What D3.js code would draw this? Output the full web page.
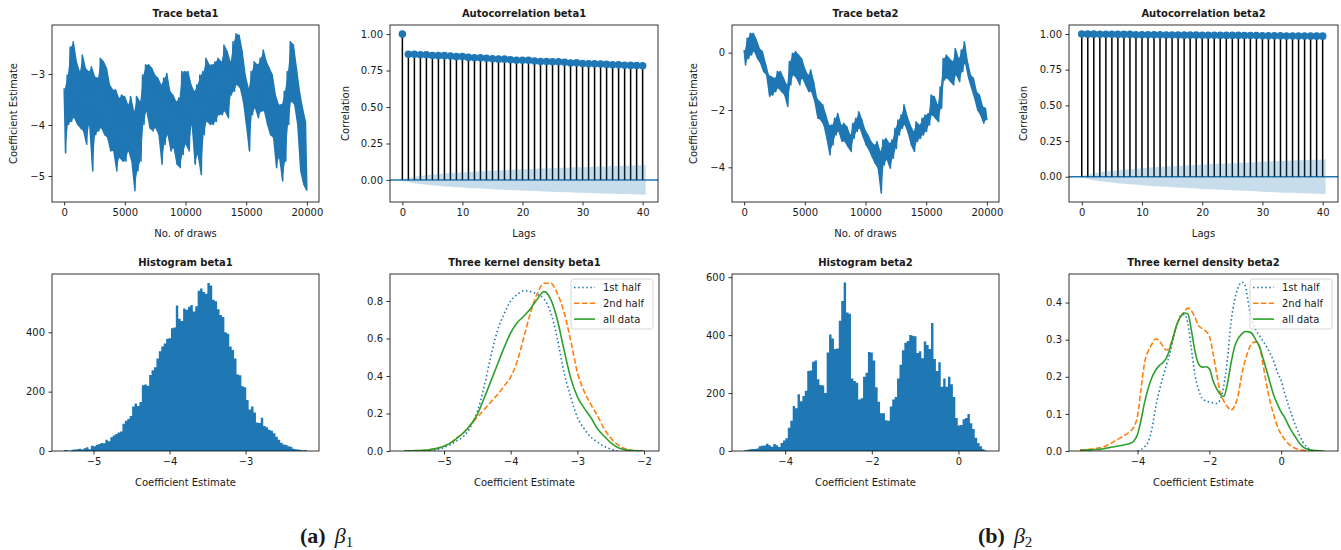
<!DOCTYPE html>
<html lang="en">
<head>
<meta charset="UTF-8">
<title>Trace, autocorrelation, histogram and kernel density of beta1 / beta2</title>
<script src="https://cdn.jsdelivr.net/npm/d3@7"></script>
<style>
  body { margin: 0; background: #fff; }
  svg text { font-family: "DejaVu Sans", sans-serif; fill: #1a1a1a; }
</style>
</head>
<body>
<svg id="chart" width="1341" height="550"></svg>
<script>
// ---- data ----
// trace: alternating local high / low every ~125 draws
const trace1 = [
  -3.28,-4.55, -3.02,-3.99, -2.47,-3.93, -2.37,-3.86, -2.76,-3.99, -2.95,-4.06, -2.63,-4.12, -2.89,-4.38,
  -2.95,-3.99, -2.86,-4.90, -3.05,-4.19, -3.08,-4.12, -2.69,-4.06, -2.76,-4.19, -2.89,-4.25, -3.21,-4.51,
  -3.31,-4.51, -3.31,-4.90, -3.47,-4.64, -3.41,-4.71, -3.44,-4.71, -3.60,-4.51, -3.44,-4.71, -3.73,-5.29,
  -3.44,-4.90, -3.54,-4.71, -3.02,-3.99, -2.82,-3.73, -2.82,-4.06, -2.89,-4.12, -3.02,-4.06, -3.08,-4.19,
  -3.21,-4.77, -3.08,-4.38, -2.99,-4.19, -3.34,-4.51, -3.41,-4.45, -3.54,-4.77, -3.47,-4.84, -2.95,-4.58,
  -2.95,-4.38, -2.95,-4.51, -3.21,-3.99, -3.34,-4.77, -3.21,-4.58, -3.02,-4.97, -2.95,-4.19, -2.69,-3.93,
  -2.82,-3.99, -2.82,-3.99, -2.76,-3.93, -2.69,-3.80, -2.76,-3.80, -2.43,-3.73, -2.56,-3.86, -2.76,-3.41,
  -2.37,-3.34, -2.21,-3.21, -2.24,-3.28, -2.56,-3.54, -3.02,-3.99, -3.28,-4.51, -2.95,-3.80, -2.76,-3.67,
  -2.82,-3.86, -2.69,-3.73, -2.53,-3.73, -2.76,-3.99, -2.89,-4.19, -3.02,-4.25, -3.41,-4.84, -3.60,-4.64,
  -3.60,-5.10, -3.34,-4.71, -2.95,-3.99, -2.37,-3.54, -2.43,-3.60, -2.89,-3.99, -3.34,-4.90, -3.67,-5.16,
  -3.93,-5.29
];
const trace2 = [
  0.09,-0.43, 0.50,-0.20, 0.68,-0.08, 0.68,0.04, 0.44,-0.20, 0.15,-0.37, 0.04,-0.66, -0.37,-0.78,
  -0.78,-1.53, -0.84,-1.48, -0.89,-1.36, -0.66,-1.24, -0.66,-1.36, -0.89,-1.48, -1.13,-1.88, -0.31,-1.13,
  -0.02,-0.78, 0.04,-0.89, -0.08,-1.13, -0.20,-0.89, -0.55,-1.13, -0.78,-1.36, -0.60,-1.36, -1.01,-1.71,
  -1.59,-2.29, -1.71,-2.35, -1.82,-2.52, -2.17,-2.99, -2.52,-3.57, -2.52,-3.22, -2.29,-2.87, -2.12,-2.75,
  -2.52,-3.10, -2.46,-3.10, -2.58,-3.28, -2.87,-3.45, -2.46,-2.99, -2.29,-2.75, -2.06,-2.64, -2.35,-2.93,
  -2.70,-3.22, -2.87,-3.39, -3.10,-3.63, -3.22,-3.86, -3.10,-4.03, -3.45,-4.90, -3.04,-3.92, -2.99,-3.74,
  -3.16,-4.03, -3.04,-3.68, -2.64,-3.34, -2.35,-2.87, -2.17,-2.64, -1.82,-2.52, -2.23,-2.81, -2.52,-3.22,
  -2.75,-3.45, -2.41,-3.10, -2.52,-2.99, -2.29,-2.87, -2.17,-2.75, -2.12,-2.52, -1.48,-2.17, -1.53,-2.29,
  -1.82,-2.41, -1.19,-1.94, -0.20,-0.95, -0.08,-0.89, -0.20,-1.01, -0.31,-1.13, 0.15,-0.78, -0.20,-1.01,
  0.09,-0.66, 0.38,-0.37, -0.31,-0.89, -0.78,-1.24, -0.89,-1.59, -1.36,-2.00, -1.48,-2.17, -1.88,-2.46,
  -1.94,-2.35
];
const nDraws = 20000;

// autocorrelation, lags 0..40, and half width of the confidence band
const lags = d3.range(0, 41);
const acf1 = [1.0, .862, .862, .858, .858, .853, .852, .852, .850, .845, .846, .840, .838, .838, .834, .830,
  .828, .828, .824, .820, .820, .820, .815, .812, .812, .810, .810, .806, .802, .803, .798, .796, .796, .795,
  .792, .790, .790, .786, .785, .784, .782];
const conf1 = [0, .014, .022, .028, .033, .036, .040, .044, .047, .050, .052, .055, .057, .059, .061, .063,
  .065, .067, .069, .071, .073, .074, .076, .078, .079, .081, .082, .084, .085, .087, .088, .089, .091, .092,
  .093, .095, .096, .097, .098, .100, .101];
const acf2 = [1.0, .999, .999, .998, .998, .998, .997, .997, .997, .995, .995, .994, .994, .994, .993, .993,
  .993, .992, .992, .992, .991, .991, .991, .990, .990, .990, .990, .989, .989, .989, .987, .987, .987, .987,
  .986, .986, .986, .986, .985, .985, .985];
const conf2 = [0, .014, .024, .031, .036, .041, .045, .049, .052, .055, .060, .063, .066, .068, .071, .073,
  .076, .078, .080, .082, .086, .088, .089, .091, .093, .095, .097, .098, .100, .102, .106, .107, .109, .110,
  .112, .113, .115, .116, .118, .119, .122];

// histograms: 100 bins between min and max draw
const hist1Range = [-5.386, -2.193];
const hist1Counts = [3,2,1,4,5,6,8,5,9,13, 6,18,16,20,24,27,26,38,33,46, 52,57,62,66,92,102,108,118,150,160,
  152,165,222,224,220,256,272,282,312,336, 352,362,378,380,414,416,490,446,438,480,
  476,486,492,470,488,540,548,536,530,566, 558,510,505,478,458,452,400,395,352,340,
  312,258,255,218,215,172,140,150,130,96, 94,112,84,80,72,68,60,48,38,28, 22,20,16,14,8,6,5,3,2,3];
const hist2Range = [-4.948, 0.656];
const hist2Counts = [3,4,6,7,7,9,16,18,19,25, 20,15,24,20,14,28,36,44,80,104, 155,148,196,172,190,208,276,278,308,312,
  248,228,226,200,340,402,388,352,354,450, 518,582,478,474,250,242,236,178,182,256,
  270,342,340,312,220,170,130,130,106,104, 154,178,186,250,298,348,374,380,400,398,
  396,338,344,320,378,366,352,442,318,276, 306,222,250,222,256,230,186,114,88,90,
  110,114,128,96,76,46,28,16,6,2];

// kernel densities on a 0.1 grid
const kde1Grid = d3.range(37).map(i => -5.6 + i * 0.1);
const kde1First = [null,null,0.0,0.001,0.003,0.008,0.018,0.035,0.055,0.08,0.13,0.21,0.34,0.50,0.64,0.73,0.80,
  0.835,0.855,0.85,0.835,0.81,0.74,0.60,0.42,0.29,0.18,0.12,0.075,0.048,0.025,0.01,0.002,null,null,null,null];
const kde1Second = [0.0,0.001,0.002,0.004,0.008,0.015,0.027,0.045,0.072,0.10,0.14,0.18,0.22,0.26,0.30,0.345,
  0.395,0.48,0.61,0.74,0.84,0.895,0.895,0.84,0.74,0.59,0.42,0.32,0.25,0.19,0.12,0.07,0.035,0.015,0.005,0.002,0.0];
const kde1All = [0.0,0.001,0.002,0.004,0.008,0.014,0.025,0.043,0.07,0.10,0.14,0.195,0.28,0.37,0.46,0.55,0.63,
  0.685,0.72,0.76,0.81,0.85,0.81,0.70,0.54,0.39,0.29,0.23,0.18,0.12,0.08,0.045,0.02,0.008,0.003,0.001,0.0];

const kde2Grid = d3.range(69).map(i => -5.6 + i * 0.1);
const kde2First = [null,null,null,null,null,null,null,null,null,null,null,null,null,null,null,null,
  0.0,.004,.012,.025,.06,.115,.16,.197,.23,.262,.305,.34,.365,.368,.345,.275,.205,.165,.142,.135,.132,.13,.128,
  .138,.175,.245,.345,.405,.44,.455,.445,.39,.35,.325,.31,.295,.28,.262,.24,.21,.19,.155,.124,.095,.068,.045,
  .025,.012,.005,.001,null,null,null];
const kde2Second = [.003,.003,.004,.005,.006,.008,.009,.013,.018,.023, .029,.034,.04,.046,.053,.065,.095,.17,.24,.27,
  .288,.302,.298,.283,.272,.282,.31,.342,.362,.375, .385,.378,.36,.338,.33,.323,.31,.265,.21,.16,
  .135,.12,.11,.12,.15,.205,.245,.275,.292,.294, .28,.23,.175,.13,.095,.065,.045,.031,.02,.012,
  .007,.004,.002,.001,.001,0,0,0,0];
const kde2All = [.002,.002,.003,.003,.004,.004,.005,.007,.009,.011, .012,.014,.016,.018,.021,.027,.045,.085,.133,.17,
  .198,.217,.23,.238,.25,.275,.31,.342,.362,.372, .37,.325,.268,.235,.226,.227,.222,.19,.168,.153,
  .147,.18,.235,.28,.303,.315,.322,.321,.315,.298, .28,.248,.215,.18,.148,.125,.105,.09,.07,.052,
  .037,.022,.012,.006,.003,.001,.001,0,0];

const legendLabels = ['1st half', '2nd half', 'all data'];

// ---- drawing ----
const svg = d3.select('#chart');
const defs = svg.append('defs');
const blue = '#1f77b4', orange = '#ff7f0e', green = '#2ca02c';
const fmtInt = d3.format('d');

function panel(id, box, xDom, yDom) {
  const g = svg.append('g').attr('transform', `translate(${box.x},${box.y})`);
  const x = d3.scaleLinear(xDom, [0, box.w]);
  const y = d3.scaleLinear(yDom, [box.h, 0]);
  defs.append('clipPath').attr('id', 'clip-' + id)
    .append('rect').attr('width', box.w).attr('height', box.h);
  const plot = g.append('g').attr('clip-path', `url(#clip-${id})`);
  return { g, plot, x, y, w: box.w, h: box.h };
}

function axes(p, o) {
  const styleAxis = a => {
    a.select('.domain').remove();
    a.attr('font-family', '"DejaVu Sans", sans-serif').attr('font-size', 10);
    a.selectAll('line').attr('stroke', '#000').attr('stroke-width', 0.8);
  };
  p.g.append('g').attr('transform', `translate(0,${p.h})`)
    .call(d3.axisBottom(p.x).tickValues(o.xTicks).tickFormat(o.xFmt).tickSize(3.5).tickPadding(3.5))
    .call(styleAxis);
  p.g.append('g')
    .call(d3.axisLeft(p.y).tickValues(o.yTicks).tickFormat(o.yFmt).tickSize(3.5).tickPadding(3.5))
    .call(styleAxis);
  p.g.append('rect').attr('width', p.w).attr('height', p.h)
    .attr('fill', 'none').attr('stroke', '#000').attr('stroke-width', 0.8);
  p.g.append('text').attr('x', p.w / 2).attr('y', -8).attr('text-anchor', 'middle')
    .attr('font-size', 10).attr('font-weight', 'bold').text(o.title);
  p.g.append('text').attr('x', p.w / 2).attr('y', p.h + 34.5).attr('text-anchor', 'middle')
    .attr('font-size', 10).text(o.xLabel);
  if (o.yLabel) {
    p.g.append('text').attr('transform', `translate(${-o.yLabelOff},${p.h / 2}) rotate(-90)`)
      .attr('dy', '0.35em').attr('text-anchor', 'middle').attr('font-size', 10).text(o.yLabel);
  }
}

function tracePanel(id, box, data, yDom, yTicks, title) {
  const p = panel(id, box, [-1000, 21000], yDom);
  const step = nDraws / (data.length - 1);
  // solid band between each high and the following low, then the zigzag on top
  const pairs = d3.range(0, data.length - 1, 2);
  p.plot.append('path').datum(pairs)
    .attr('fill', blue)
    .attr('d', d3.area().x(i => p.x((i + 0.5) * step)).y0(i => p.y(data[i + 1])).y1(i => p.y(data[i])));
  p.plot.append('path')
    .datum(data)
    .attr('fill', 'none').attr('stroke', blue).attr('stroke-width', 1.5).attr('stroke-linejoin', 'round')
    .attr('d', d3.line().x((d, i) => p.x(i * step)).y(d => p.y(d)));
  axes(p, { xTicks: [0, 5000, 10000, 15000, 20000], xFmt: fmtInt, yTicks, yFmt: fmtInt,
    title, xLabel: 'No. of draws', yLabel: 'Coefficient Estimate', yLabelOff: box.labelOff });
}

function acfPanel(id, box, acf, conf, xDom, yDom, title) {
  const p = panel(id, box, xDom, yDom);
  p.plot.append('line').attr('x1', 0).attr('x2', p.w).attr('y1', p.y(0)).attr('y2', p.y(0))
    .attr('stroke', blue).attr('stroke-width', 1.5);
  p.plot.selectAll('line.stem').data(lags).join('line').attr('class', 'stem')
    .attr('x1', d => p.x(d)).attr('x2', d => p.x(d))
    .attr('y1', p.y(0)).attr('y2', d => p.y(acf[d]))
    .attr('stroke', '#000').attr('stroke-width', 1.5);
  p.plot.selectAll('circle').data(lags).join('circle')
    .attr('cx', d => p.x(d)).attr('cy', d => p.y(acf[d])).attr('r', 3.8).attr('fill', blue);
  const bandX = lags.map((l, i) => i === 0 ? l - 0.5 : (i === lags.length - 1 ? l + 0.5 : l));
  p.plot.append('path').datum(lags)
    .attr('fill', blue).attr('fill-opacity', 0.25)
    .attr('d', d3.area().x((d, i) => p.x(bandX[i])).y0(d => p.y(-conf[d])).y1(d => p.y(conf[d])));
  axes(p, { xTicks: [0, 10, 20, 30, 40], xFmt: fmtInt, yTicks: [0, 0.25, 0.5, 0.75, 1], yFmt: d3.format('.2f'),
    title, xLabel: 'Lags', yLabel: 'Correlation', yLabelOff: box.labelOff });
}

function histPanel(id, box, counts, range, xDom, yDom, xTicks, yTicks, title) {
  const p = panel(id, box, xDom, yDom);
  const bw = (range[1] - range[0]) / counts.length;
  // one stepped outline, so neighbouring bars have no seams
  const steps = counts.concat([counts[counts.length - 1]]);
  p.plot.append('path').datum(steps)
    .attr('fill', blue)
    .attr('d', d3.area().curve(d3.curveStepAfter)
      .x((d, i) => p.x(range[0] + i * bw)).y0(p.y(0)).y1(d => p.y(d)));
  axes(p, { xTicks, xFmt: fmtInt, yTicks, yFmt: fmtInt, title, xLabel: 'Coefficient Estimate' });
}

const kdeStyles = [
  { color: blue, dash: '1.5,2.6' },
  { color: orange, dash: '5.5,2.4' },
  { color: green, dash: null }
];

function kdePanel(id, box, grid, series, xDom, yDom, xTicks, yTicks, title) {
  const p = panel(id, box, xDom, yDom);
  const line = d3.line().defined(d => d[1] != null)
    .x(d => p.x(d[0])).y(d => p.y(d[1])).curve(d3.curveMonotoneX);
  series.forEach((s, k) => {
    p.plot.append('path').datum(grid.map((gx, i) => [gx, s[i]]))
      .attr('fill', 'none').attr('stroke', kdeStyles[k].color).attr('stroke-width', 1.6)
      .attr('stroke-dasharray', kdeStyles[k].dash).attr('d', line);
  });
  const lg = p.g.append('g').attr('transform', `translate(${p.w - 88},5)`);
  lg.append('rect').attr('width', 82).attr('height', 50).attr('rx', 2.5)
    .attr('fill', '#fff').attr('fill-opacity', 0.8).attr('stroke', '#ccc').attr('stroke-width', 0.8);
  legendLabels.forEach((lab, k) => {
    const yy = 8.5 + k * 15.8;
    lg.append('line').attr('x1', 3).attr('x2', 24).attr('y1', yy).attr('y2', yy)
      .attr('stroke', kdeStyles[k].color).attr('stroke-width', 1.6).attr('stroke-dasharray', kdeStyles[k].dash);
    lg.append('text').attr('x', 32).attr('y', yy).attr('dy', '0.35em').attr('font-size', 10).text(lab);
  });
  axes(p, { xTicks, xFmt: fmtInt, yTicks, yFmt: d3.format('.1f'), title, xLabel: 'Coefficient Estimate' });
}

tracePanel('t1', { x: 52, y: 25, w: 267, h: 177, labelOff: 39 }, trace1, [-5.51, -2.04], [-5, -4, -3], 'Trace beta1');
acfPanel('a1', { x: 390, y: 25, w: 268, h: 177, labelOff: 45 }, acf1, conf1, [-2.06, 42.56], [-0.151, 1.062], 'Autocorrelation beta1');
tracePanel('t2', { x: 732, y: 25, w: 267, h: 177, labelOff: 39 }, trace2, [-5.21, 0.966], [-4, -2, 0], 'Trace beta2');
acfPanel('a2', { x: 1069, y: 25, w: 269, h: 177, labelOff: 46 }, acf2, conf2, [-2.12, 42.55], [-0.177, 1.063], 'Autocorrelation beta2');

histPanel('h1', { x: 52, y: 274, w: 267, h: 177 }, hist1Counts, hist1Range, [-5.546, -2.034], [0, 596.5],
  [-5, -4, -3], [0, 200, 400], 'Histogram beta1');
kdePanel('k1', { x: 390, y: 274, w: 269, h: 177 }, kde1Grid, [kde1First, kde1Second, kde1All],
  [-5.81, -1.775], [0, 0.944], [-5, -4, -3, -2], [0, 0.2, 0.4, 0.6, 0.8], 'Three kernel density beta1');
histPanel('h2', { x: 732, y: 274, w: 267, h: 177 }, hist2Counts, hist2Range, [-5.228, 0.936], [0, 611],
  [-4, -2, 0], [0, 200, 400, 600], 'Histogram beta2');
kdePanel('k2', { x: 1069, y: 274, w: 269, h: 177 }, kde2Grid, [kde2First, kde2Second, kde2All],
  [-5.909, 1.582], [0, 0.477], [-4, -2, 0], [0, 0.1, 0.2, 0.3, 0.4], 'Three kernel density beta2');

// sub-figure captions
[['(a)', '1', 300], ['(b)', '2', 978]].forEach(([tag, sub, x0]) => {
  const t = svg.append('text').attr('x', x0).attr('y', 543)
    .style('font-family', '"Liberation Serif", "DejaVu Serif", serif').attr('font-size', 22);
  t.append('tspan').attr('font-weight', 'bold').text(tag);
  t.append('tspan').attr('dx', 9).attr('font-style', 'italic').text('β');
  t.append('tspan').attr('dy', 4).attr('font-size', 15).text(sub);
});
</script>
</body>
</html>
